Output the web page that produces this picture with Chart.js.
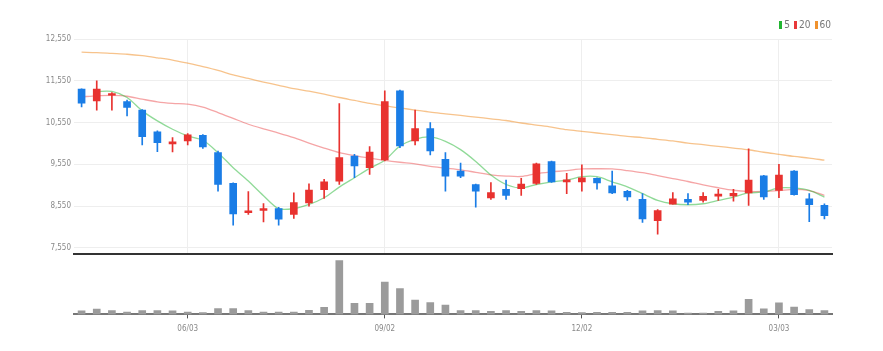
<!DOCTYPE html>
<html>
<head>
<meta charset="utf-8">
<script src="https://cdn.jsdelivr.net/npm/chart.js@4.4.1/dist/chart.umd.min.js"></script>
<style>
  body { margin: 0; background: #fff; }
  #wrap { position: relative; width: 883px; height: 351px; overflow: hidden; }
  #priceChart { position: absolute; left: 0; top: 0; }
  #volumeChart { position: absolute; left: 0; top: 252px; }
  .legend { position: absolute; top: 19px; right: 52px; display: flex; align-items: center;
    font: 10px "Liberation Sans Narrow", "DejaVu Sans Condensed", sans-serif; color: #777; }
  .legend span.box { display: inline-block; width: 3px; height: 8px; margin-right: 2px; }
  .legend span.item { display: flex; align-items: center; margin-left: 4px; }
</style>
</head>
<body>
<div id="wrap">
  <canvas id="priceChart" width="883" height="262"></canvas>
  <canvas id="volumeChart" width="883" height="99"></canvas>
  <div class="legend">
    <span class="item"><span class="box" style="background:#22b531"></span>5</span>
    <span class="item"><span class="box" style="background:#e8383a"></span>20</span>
    <span class="item"><span class="box" style="background:#f0922e"></span>60</span>
  </div>
</div>
<script>
// Weekly candles
const weeks = ['04/15','04/22','04/29','05/06','05/13','05/20','05/27','06/03','06/10','06/17',
  '06/24','07/01','07/08','07/15','07/22','07/29','08/05','08/12','08/19','08/26',
  '09/02','09/09','09/16','09/23','09/30','10/07','10/14','10/21','10/28','11/04',
  '11/11','11/18','11/25','12/02','12/09','12/16','12/23','12/30','01/06','01/13',
  '01/20','01/27','02/03','02/10','02/17','02/24','03/03','03/10','03/17','03/24'];

const openPrice = [11350,11070,11206,11054,10846,10326,10040,10110,10246,9830,
  9094,8395,8446,8494,8350,8630,8942,9150,9750,9470,
  9654,11310,10110,10406,9670,9392,9068,8744,8954,8970,
  9092,9618,9132,9132,9213,9035,8906,8711,8204,8599,
  8712,8688,8790,8792,8865,9276,8929,9389,8728,8567];
const closePrice = [11014,11350,11246,10910,10214,10070,10090,10254,9966,9070,
  8366,8440,8494,8238,8638,8934,9134,9710,9510,9846,
  11054,9990,10406,9870,9270,9270,8906,8873,8808,9076,
  9562,9132,9180,9230,9108,8865,8768,8242,8446,8728,
  8647,8784,8840,8857,9171,8768,9292,8825,8583,8325];
const highPrice = [11360,11550,11270,11086,10860,10350,10190,10286,10260,9870,
  9110,8901,8614,8520,8870,9086,9190,11006,9790,9974,
  11310,11326,10846,10550,9830,9578,9080,9116,9173,9213,
  9578,9630,9335,9538,9225,9392,8930,8849,8470,8873,
  8849,8873,8954,8954,9921,9290,9550,9400,8849,8607];
const lowPrice = [10926,10846,10846,10710,10014,9854,9846,10014,9934,8910,
  8094,8352,8174,8094,8254,8550,8734,9070,9230,9310,
  9630,9950,10014,9774,8910,9230,8525,8711,8711,8808,
  9068,9116,8849,8906,8954,8849,8687,8160,7882,8599,
  8583,8647,8688,8671,8567,8712,8752,8810,8180,8244];

const ma5 = [null,11294,11294,11150,10830,10590,10390,10230,10126,9830,
  9470,9150,8800,8490,8490,8590,8750,9006,9230,9454,
  9646,9990,10150,10206,10100,9902,9620,9295,9068,8987,
  9068,9132,9173,9254,9254,9132,9011,8849,8688,8607,
  8583,8607,8688,8768,8865,8889,8986,8986,8929,8768];
const ma20 = [11166,11190,11200,11180,11110,11046,11010,10990,10920,10790,
  10650,10510,10400,10300,10190,10060,9940,9830,9760,9700,
  9646,9600,9560,9500,9460,9420,9360,9300,9270,9260,
  9330,9370,9400,9440,9445,9440,9400,9350,9280,9210,
  9140,9060,8990,8930,8900,8900,8920,8950,8920,8810];
const ma60 = [12235,12225,12205,12185,12150,12100,12045,11970,11890,11800,
  11690,11605,11520,11440,11360,11300,11230,11150,11080,11010,
  10950,10900,10850,10800,10760,10720,10680,10640,10600,10540,
  10490,10440,10380,10340,10300,10260,10220,10190,10150,10110,
  10060,10020,9980,9940,9900,9840,9790,9740,9700,9650];

const volume = [10,15,11,7,11,11,10,7,5,17,
  17,11,7,7,7,12,20,155,32,32,
  93,74,41,34,27,11,11,9,11,9,
  11,10,6,5,6,6,6,10,11,10,
  4,4,9,10,43,16,33,21,14,11];

const priceTicks = [7550, 8550, 9550, 10550, 11550, 12550];
const tickLabels = ['06/03', '09/02', '12/02', '03/03'];

// Colours
const upColor = '#e8322f';
const downColor = '#1a7de6';
const axisFont = { family: '"Liberation Sans Narrow", "DejaVu Sans Condensed", sans-serif', size: 8 };

const candleColors = openPrice.map((o, i) => closePrice[i] >= o ? upColor : downColor);
const bodies = openPrice.map((o, i) => [o, closePrice[i]]);
const wicks = lowPrice.map((l, i) => [l, highPrice[i]]);

const isLabelTick = (i) => tickLabels.includes(weeks[i]);

new Chart(document.getElementById('priceChart'), {
  type: 'bar',
  data: {
    labels: weeks,
    datasets: [
      { type: 'line', label: '60', data: ma60, borderColor: 'rgba(240,146,46,0.55)', borderWidth: 1.3,
        pointRadius: 0, tension: 0.3, order: 5 },
      { type: 'line', label: '20', data: ma20, borderColor: 'rgba(232,56,58,0.45)', borderWidth: 1.3,
        pointRadius: 0, tension: 0.3, order: 4 },
      { type: 'line', label: '5', data: ma5, borderColor: 'rgba(34,181,49,0.5)', borderWidth: 1.3,
        pointRadius: 0, tension: 0.3, order: 3 },
      { label: 'wick', data: wicks, backgroundColor: candleColors, barThickness: 1, grouped: false, order: 2 },
      { label: 'body', data: bodies, backgroundColor: candleColors, barThickness: 7, grouped: false, order: 1 }
    ]
  },
  options: {
    responsive: false,
    animation: false,
    layout: { padding: { top: 39, right: 51, bottom: 3, left: 0 } },
    plugins: { legend: { display: false }, tooltip: { enabled: false } },
    scales: {
      x: {
        grid: { offset: false, drawTicks: false, color: ctx => isLabelTick(ctx.index) ? '#eeeeee' : 'rgba(0,0,0,0)' },
        ticks: { display: false },
        border: { color: '#333', width: 2 }
      },
      y: {
        min: 7400,
        max: 12550,
        afterBuildTicks: scale => { scale.ticks = priceTicks.map(v => ({ value: v })); },
        afterFit: scale => { scale.width = 74; },
        ticks: { color: '#888', font: axisFont, padding: 3, callback: v => v.toLocaleString('en-US') },
        grid: { color: '#eeeeee', drawTicks: false },
        border: { display: false }
      }
    }
  }
});

new Chart(document.getElementById('volumeChart'), {
  type: 'bar',
  data: {
    labels: weeks,
    datasets: [{ data: volume, backgroundColor: '#9b9b9b', barThickness: 7 }]
  },
  options: {
    responsive: false,
    animation: false,
    layout: { padding: { top: 5, right: 51, bottom: 11, left: 74 } },
    plugins: { legend: { display: false }, tooltip: { enabled: false } },
    scales: {
      x: {
        grid: { offset: false, drawOnChartArea: false, tickLength: 4,
          color: ctx => isLabelTick(ctx.index) ? '#555' : 'rgba(0,0,0,0)' },
        border: { color: '#777', width: 2 },
        ticks: { autoSkip: false, maxRotation: 0, padding: 6, color: '#888', font: axisFont,
          callback: (v, i) => isLabelTick(i) ? weeks[i] : '' }
      },
      y: { display: false, min: 0, max: 165 }
    }
  }
});
</script>
</body>
</html>
